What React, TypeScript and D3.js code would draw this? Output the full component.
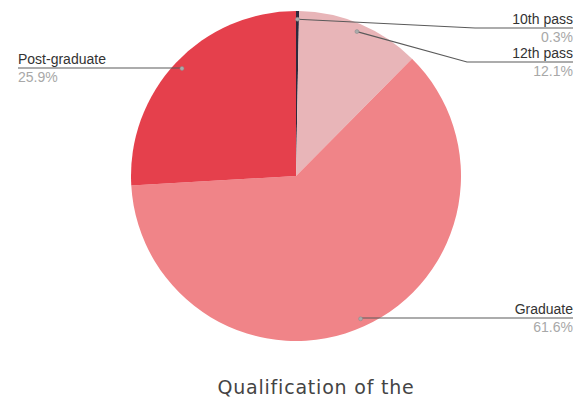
import React from "react";
import * as d3 from "d3";

const categories = ["10th pass", "12th pass", "Graduate", "Post-graduate"];
const values = [0.3, 12.1, 61.6, 25.9];
const percentLabels = ["0.3%", "12.1%", "61.6%", "25.9%"];
const colors = ["#2e2a3c", "#e8b5b8", "#f08488", "#e5404c"];
const titleText = "Qualification of the";

// label layout: side, y of leader line, elbow x
const labelLayout = [
  { side: "right", lineY: 28, elbowX: 475 },
  { side: "right", lineY: 62, elbowX: 467 },
  { side: "right", lineY: 318, elbowX: null },
  { side: "left", lineY: 68, elbowX: null },
];

const W = 587;
const H = 398;
const cx = 296;
const cy = 176;
const R = 165;

export default function App() {
  const pie = d3
    .pie<number>()
    .sort(null)
    .value((d) => d)
    .startAngle(0)
    .endAngle(2 * Math.PI);
  const arcs = pie(values);
  const arcGen = d3.arc<d3.PieArcDatum<number>>().innerRadius(0).outerRadius(R);

  const font = "Liberation Sans, Arial, sans-serif";

  return (
    <svg
      width={W}
      height={H}
      style={{ position: "absolute", left: 0, top: 0, background: "#fff" }}
    >
      <g transform={`translate(${cx},${cy})`}>
        {arcs.map((a, i) => (
          <path key={i} d={arcGen(a) || ""} fill={colors[i]} />
        ))}
      </g>
      {arcs.map((a, i) => {
        const mid = (a.startAngle + a.endAngle) / 2;
        const r = R * 0.95;
        const dx = cx + r * Math.sin(mid);
        const dy = cy - r * Math.cos(mid);
        const lay = labelLayout[i];
        const right = lay.side === "right";
        const endX = right ? 573 : 18;
        const pts: [number, number][] = [[dx, dy]];
        if (lay.elbowX !== null) pts.push([lay.elbowX, lay.lineY]);
        else pts.push([dx, lay.lineY]);
        pts.push([endX, lay.lineY]);
        const line = d3.line();
        return (
          <g key={i}>
            <path d={line(pts) || ""} fill="none" stroke="#5a5a5a" strokeWidth={1.2} />
            <circle cx={dx} cy={dy} r={2} fill="#aaa" stroke="#888" strokeWidth={0.5} />
            <text
              x={endX}
              y={lay.lineY - 4}
              textAnchor={right ? "end" : "start"}
              fontFamily={font}
              fontSize={14}
              fill="#333"
            >
              {categories[i]}
            </text>
            <text
              x={endX}
              y={lay.lineY + 14}
              textAnchor={right ? "end" : "start"}
              fontFamily={font}
              fontSize={14}
              fill="#a8a8a8"
            >
              {percentLabels[i]}
            </text>
          </g>
        );
      })}
      <text
        x={316}
        y={394}
        textAnchor="middle"
        fontFamily="DejaVu Sans, sans-serif"
        fontSize={19}
        letterSpacing={0.8}
        fill="#444"
      >
        {titleText}
      </text>
    </svg>
  );
}
